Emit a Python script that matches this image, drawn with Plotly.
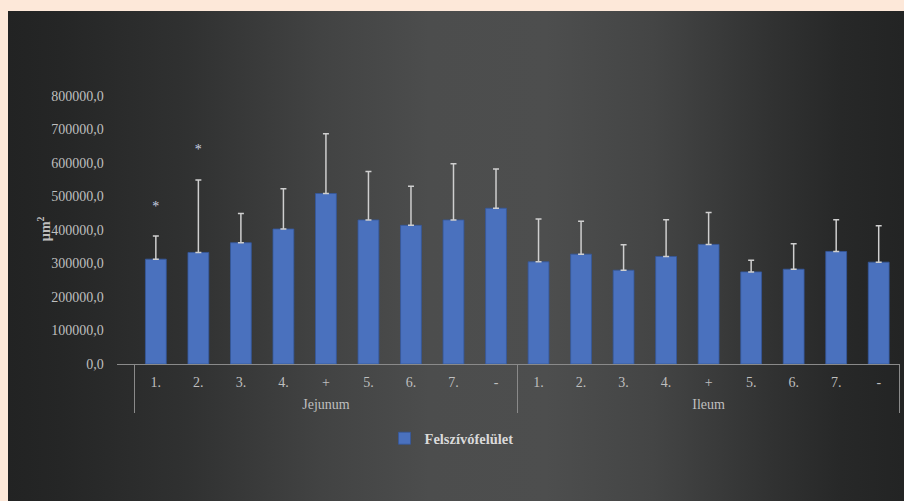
import plotly.graph_objects as go

# Absorptive surface area (µm²) per group, mean and SD
groups = ["Jejunum"] * 9 + ["Ileum"] * 9
labels = ["1.", "2.", "3.", "4.", "+", "5.", "6.", "7.", "-"] * 2
means = [313000, 333000, 362000, 403000, 509000, 430000, 414000, 430000, 465000,
         305000, 328000, 280000, 321000, 357000, 275000, 283000, 336000, 304000]
sds = [69000, 216000, 87000, 120000, 178000, 145000, 117000, 168000, 117000,
       128000, 98000, 76000, 110000, 95000, 35000, 76000, 95000, 109000]

# significance markers
star_groups = ["Jejunum", "Jejunum"]
star_labels = ["1.", "2."]
star_values = [466000, 636000]

series_name = "Felszívófelület"
y_title = "µm<sup>2</sup>"

SERIF = "Liberation Serif, Times New Roman, serif"
TICK_COLOR = "#bfbfbf"
LINE_COLOR = "#8a8a8a"
LABEL_PX = 14     # visible size of the category texts
BASE_PX = 11.3    # axis font size; sets the gap between the two label rows


def big(txt):
    return f"<span style='font-size:{LABEL_PX}px'>{txt}</span>"


# the inner row gets a spacer line so the group row sits lower
x_groups = [big(g) for g in groups]
x_labels = [big(lab) + "<br>\u00a0" for lab in labels]
s_groups = [big(g) for g in star_groups]
s_labels = [big(lab) + "<br>\u00a0" for lab in star_labels]

fig = go.Figure()

# dark panel background with a horizontal light-in-the-middle gradient
fig.add_trace(go.Scatter(
    x=[0, 1, 1, 0, 0], y=[0, 0, 1, 1, 0],
    mode="lines", line=dict(width=0), fill="toself",
    fillgradient=dict(
        type="horizontal", start=0, stop=1,
        colorscale=[[0.0, "#222323"], [0.06, "#252626"], [0.2, "#303131"],
                    [0.35, "#424343"], [0.47, "#4c4d4d"], [0.6, "#4d4e4e"],
                    [0.72, "#444545"], [0.85, "#313232"], [0.93, "#272828"],
                    [1.0, "#232424"]]),
    hoverinfo="skip", showlegend=False, xaxis="x", yaxis="y",
))

fig.add_trace(go.Bar(
    x=[x_groups, x_labels], y=means, name=series_name,
    marker=dict(color="#4a71be", line=dict(color="#35589c", width=0.8)),
    error_y=dict(type="data", symmetric=False, array=sds,
                 arrayminus=[0] * len(sds), color="#cfcfcf",
                 thickness=1.5, width=3),
    xaxis="x2", yaxis="y2",
))

fig.add_trace(go.Scatter(
    x=[s_groups, s_labels], y=star_values, mode="text", text=["*", "*"],
    textfont=dict(family=SERIF, size=14, color="#c9d1e3"),
    textposition="middle center", showlegend=False, hoverinfo="skip",
    xaxis="x2", yaxis="y2",
))

fig.add_annotation(
    xref="paper", yref="paper", x=0.028, y=0.555, text="<b>" + y_title + "</b>",
    textangle=-90, showarrow=False, font=dict(family=SERIF, size=14, color=TICK_COLOR),
)

fig.update_layout(
    width=904, height=501,
    margin=dict(l=8, r=0, t=11, b=0, autoexpand=False),
    paper_bgcolor="#fde8d9",
    plot_bgcolor="rgba(0,0,0,0)",
    separators=", ",
    bargap=0.51,
    xaxis=dict(domain=[0, 1], range=[0, 1], visible=False, fixedrange=True,
               automargin=False),
    yaxis=dict(domain=[0, 1], range=[0, 1], visible=False, fixedrange=True,
               automargin=False),
    xaxis2=dict(
        domain=[0.1213, 0.9955], anchor="y2", type="multicategory",
        showline=True, linecolor=LINE_COLOR, linewidth=1,
        showdividers=True, dividercolor=LINE_COLOR, dividerwidth=1,
        ticks="", showgrid=False, automargin=False, ticklabelstandoff=8,
        tickfont=dict(family=SERIF, size=BASE_PX, color=TICK_COLOR),
    ),
    yaxis2=dict(
        domain=[0.2796, 0.8265], anchor="x2", range=[0, 800000], dtick=100000,
        tickformat=".1f", showgrid=False, zeroline=False, showline=False,
        ticks="", ticklabelstandoff=12, automargin=False,
        tickfont=dict(family=SERIF, size=14, color=TICK_COLOR),
    ),
    showlegend=True,
    legend=dict(
        orientation="h", x=0.495, xanchor="center", y=0.128, yanchor="middle",
        bgcolor="rgba(0,0,0,0)", itemwidth=30,
        font=dict(family=SERIF, size=14.5, color="#d9d9d9", weight="bold"),
    ),
)

fig.write_html("out.html")
